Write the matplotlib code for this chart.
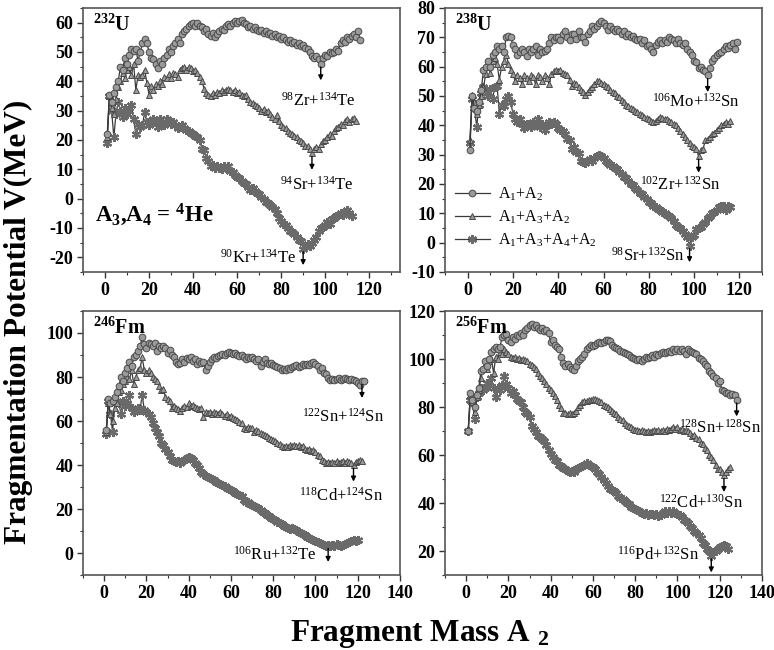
import numpy as np
import matplotlib
matplotlib.use("Agg")
import matplotlib.pyplot as plt
from matplotlib.ticker import MultipleLocator

plt.rcParams['font.family'] = ['Liberation Serif', 'DejaVu Serif']
plt.rcParams['font.weight'] = 'bold'
plt.rcParams['mathtext.fontset'] = 'custom'
plt.rcParams['mathtext.rm'] = 'Liberation Serif:weight=normal'
plt.rcParams['mathtext.bf'] = 'Liberation Serif:weight=bold'
plt.rcParams['mathtext.it'] = 'Liberation Serif:italic:weight=normal'
plt.rcParams['axes.unicode_minus'] = False

# ---------------- data: fragmentation potential vs A2 (A2 = 1..N) ----------------
u232_a12 = [22, 35.5, 33, 36, 38, 40, 45, 44, 48, 46,
            49, 51, 50.5, 51, 47, 50, 53, 54.5, 53, 50,
            48, 47.5, 46, 44.5, 47, 46, 48, 49, 51, 50,
            52, 53, 54.5, 53, 56, 57, 58, 59, 59.5, 60,
            59, 60, 59, 58.5, 57, 58, 56, 55.5, 56.5, 55,
            56, 57, 58, 57.5, 59, 59.5, 59, 60, 60.5, 60,
            60.5, 61, 60, 59.5, 58.5, 59, 58, 58.5, 57.5, 57,
            57.5, 56.5, 57, 56, 56.5, 55.5, 56, 55, 55.5, 54.5,
            55, 54, 53.5, 54, 53, 53.5, 52.5, 53, 52, 52.5,
            51.5, 51, 50, 48.5, 48, 48.5, 47.5, 46, 48, 49,
            48.5, 50, 49.5, 50, 51, 50.5, 53, 54, 53.5, 55,
            54.5, 55.5, 56, 55, 57, 54]
u232_a132 = [21, 35, 31, 29, 34, 38, 40, 43, 41, 44,
             45, 42, 46, 37, 42, 41.5, 42, 44, 39.5, 35.5,
             38.5, 37, 39, 38.5, 40, 39, 41.5, 41, 42.5, 41,
             43, 42.5, 41.5, 44, 44.5, 45, 44, 45, 44.5, 43.5,
             44, 43, 41.5, 40, 37.5, 36, 35.5, 35, 36, 35.5,
             36.5, 36, 37, 36.5, 37, 37.5, 37, 36.5, 37, 36,
             36.5, 35.5, 35, 35.5, 34, 33, 32.5, 32, 31.5, 31,
             30, 30.5, 29.5, 30, 29, 28, 27, 28.5, 26.5, 25,
             24.5, 24, 23, 22.5, 22, 21.5, 21, 20, 19.5, 19,
             18, 18, 17, 15.5, 17, 17.5, 17, 18.5, 19.5, 20,
             21, 22, 21.5, 23, 24, 24.5, 25.5, 25, 26.5, 27,
             26, 27, 27.5, 26.5]
u232_a1342 = [19, 35, 30, 21, 29, 33, 30, 28, 31, 29,
              30, 32, 27, 22, 25.5, 24.5, 25, 29.5, 26, 25,
              26.5, 27, 26, 24.5, 27, 26, 25, 27, 26.5, 25.5,
              26, 25, 24, 24.5, 25, 24, 23.5, 23, 22.5, 22,
              21.5, 21, 20, 17, 16.5, 14, 13, 11, 11.5, 10.5,
              11, 10.5, 10, 11, 10.5, 11, 9.5, 9, 8, 7.5,
              7, 6, 5.5, 5, 4, 3, 3.5, 2.5, 2, 1.5,
              0.5, 0, -1, -1.5, -2, -3, -3.5, -5, -6.5, -7.5,
              -8.5, -9, -10, -11, -11.5, -12, -13, -14, -14.5, -17,
              -16, -15.5, -16, -15, -14, -13, -11, -10, -9.5, -9,
              -8, -8.5, -7, -6.5, -6, -5.5, -5, -5.5, -4.5, -4,
              -5, -6]

u238_a12 = [31.5, 50, 46, 45, 48, 52, 59, 60, 62, 60,
            64, 65, 67, 66, 67, 65, 70, 70.5, 70, 67.5,
            66, 64, 65, 66, 65, 63.5, 66, 65, 66, 67,
            64, 66, 65, 65.5, 66, 68, 70, 69, 70, 70,
            69, 71, 72, 70, 69, 71, 71, 69.5, 72, 70,
            70, 68.5, 71, 72, 74, 73, 74, 75, 75.5, 75,
            74, 72.5, 74, 73, 72, 73, 72, 71, 72, 70.5,
            71, 70, 70.5, 69.5, 69, 69.5, 68, 69, 67, 67.5,
            66, 65, 67.5, 68.5, 69, 68, 69, 68.5, 70, 69.5,
            69, 68, 69.5, 68, 67.5, 68, 66, 65, 64, 62,
            61.5, 59.5, 60, 59, 58.5, 57, 59.5, 62, 63, 64,
            64.5, 65, 66, 67, 66.5, 67.5, 68, 66, 68.5]
u238_a132 = [35, 50.5, 48, 44, 47, 50, 53, 57.5, 60, 58,
             62, 63, 61, 55.5, 60, 62, 64, 61, 59, 57.5,
             55, 57, 56, 54, 57, 56, 55, 57, 56.5, 54,
             57, 56.5, 55, 57, 56, 54, 57.5, 58.5, 59, 58.5,
             59, 58, 57.5, 57, 55.5, 53.5, 54.5, 54, 53, 52,
             51.5, 50.5, 51.5, 52.5, 53, 54, 55, 55, 54.5, 54,
             53.5, 53, 52, 51.5, 51, 50, 49.5, 48.5, 48, 47,
             46.5, 46, 45.5, 45, 44.5, 44, 43.5, 43, 42.5, 42,
             41.5, 41, 41.5, 42, 43, 42.5, 42, 42, 41.5, 41,
             40.5, 40, 39, 38, 37, 36, 35, 34, 33, 32.5,
             32, 29.5, 31.5, 32, 35, 35.5, 36, 37, 37.5, 38.5,
             39, 40, 40.5, 41, 40.5, 41.5]
u238_a1342 = [34, 49, 46, 39.5, 47, 51, 53, 52, 50, 52.5,
              49, 53, 53.5, 44, 47, 46.5, 49, 50, 48, 44,
              42, 41, 42, 40.5, 39, 40.5, 40, 39.5, 41, 40,
              42, 39.5, 40.5, 38.5, 40, 41, 40.5, 41, 40.5, 39,
              38.5, 38, 37, 35.5, 35, 32, 32.5, 31, 30.5, 28,
              27.5, 27, 28, 28.5, 28, 29, 29.5, 30, 29.5, 29,
              28, 27, 26.5, 26, 25.5, 25, 24, 23.5, 22.5, 22,
              21, 20, 19.5, 18.5, 18, 17, 16.5, 15.5, 15, 14,
              13.5, 12.5, 12, 11.5, 11, 10.5, 10, 9.5, 9, 8.5,
              7.5, 6, 5.5, 5, 4, 3, 2, -1, 2, 2.5,
              4.5, 5, 5.5, 6.5, 7, 8.5, 9, 10, 10.5, 11,
              12, 12.5, 12.5, 11, 12.5, 12]

fm246_a12 = [56, 70, 68, 69, 71, 73, 76, 80, 78, 82,
             84, 87, 85, 89, 90, 92, 94, 98, 95, 93,
             95.5, 95, 94, 95.5, 92, 94, 93, 94, 93, 91,
             92.5, 90, 89, 87, 86, 86.5, 88, 87, 88.5, 88,
             89, 87.5, 88, 86, 87.5, 86.5, 87, 83, 85, 87,
             88, 89, 88.5, 89.5, 90, 90.5, 90, 91, 91.5, 91,
             90.5, 91, 90, 89.5, 90, 89, 88, 89, 88.5, 89,
             88, 87.5, 88, 85, 87, 88, 86.5, 86, 86.5, 85.5,
             85, 84.5, 84, 83, 83.5, 83, 84, 83.5, 84.5, 85,
             85.5, 84.5, 85, 86, 85.5, 86, 85.5, 86.5, 87, 86,
             85, 83, 84, 82, 81.5, 79.5, 78.5, 79, 78.5, 79,
             79.5, 78.5, 79, 79.5, 79, 78.5, 79, 78.5, 78, 77.5,
             76.5, 78, 78]
fm246_a132 = [55, 68, 63, 60, 66, 68, 73, 74, 77, 78,
              80, 79, 83, 77, 80, 83, 84, 89, 83, 82,
              83, 82, 80, 79, 78, 76, 74, 74.5, 71, 70,
              69, 66, 67, 66, 65.5, 64.5, 66, 67, 66.5, 68,
              67, 67.5, 66.5, 66, 65.5, 66, 62, 64, 63.5, 64,
              63, 64, 63.5, 63, 64, 63, 62.5, 63, 62, 62.5,
              61.5, 61, 60.5, 59.5, 59, 57, 56.5, 57.5, 57, 57,
              55, 56, 55.5, 54.5, 54, 53.5, 53, 52.5, 52, 51.5,
              51, 50, 49.5, 48.5, 48, 48.5, 48, 49, 48.5, 49,
              48.5, 49, 48, 48.5, 47.5, 47, 47.5, 46.5, 47, 46,
              44.5, 44, 42.5, 42, 41, 41.5, 41, 41.5, 41, 42,
              41, 41.5, 42, 41, 42, 41.5, 41, 40, 41.5, 42,
              42.5, 42]
fm246_a1342 = [54, 69, 63, 55, 68, 69, 68, 63, 69, 67,
               68, 72, 66, 64, 65, 66, 65, 72, 65, 64,
               63, 62, 59, 57, 55, 53, 50, 49, 47.5, 46,
               44, 42.5, 42, 41.5, 42, 41, 42, 42.5, 43, 43.5,
               43, 42.5, 41, 40, 38.5, 37, 36, 35, 34.5, 34,
               33.5, 33, 32.5, 32, 31.5, 31, 30.5, 29.5, 29, 28.5,
               28, 27.5, 27, 26.5, 26, 24, 23, 23, 22.5, 22,
               21.5, 21, 20.5, 19.5, 18.5, 18, 17.5, 17, 16, 15.5,
               15, 14, 13.5, 13, 12.5, 12, 11.5, 11, 11.5, 11,
               10.5, 9.5, 9, 8.5, 8, 7.5, 7, 6.5, 6, 5.5,
               5, 4.5, 4, 3.5, 3, 3.5, 3, 3.5, 3, 4,
               3.5, 3, 3.5, 4, 4.5, 5, 5.5, 6, 5.5, 6]

fm256_a12 = [70, 86, 83, 80, 85, 88, 95, 96, 99, 97,
             100, 103, 104, 105, 104, 105, 109, 110, 110.5, 108,
             107, 109, 108.5, 110, 109.5, 111, 110, 112, 113, 114,
             114.5, 113.5, 114, 113, 112, 113, 111.5, 112, 111, 107,
             108, 106, 105, 104, 101, 98.5, 97, 98, 96.5, 96,
             95.5, 97, 99, 100, 101, 102, 104, 105, 106, 105.5,
             106, 106.5, 107, 106.5, 107, 108, 108, 107.5, 106, 105,
             104.5, 104, 103.5, 103, 102.5, 102, 101.5, 101, 100.5, 100,
             99.5, 100, 99, 100, 101, 100.5, 101, 101.5, 101, 102,
             101.5, 102.5, 103, 102.5, 103, 103.5, 103, 104, 103.5, 104,
             103.5, 104, 103.5, 102, 104, 103.5, 103, 102.5, 102, 100.5,
             100, 99, 98, 97, 95, 94, 93, 92, 90, 91,
             87, 86.5, 86, 86, 85, 85.5, 85, 83]
fm256_a132 = [71, 85, 82, 78, 84, 87, 92, 96, 97, 96,
              99, 100, 94, 101, 100, 103, 102, 104, 103, 102,
              101, 100.5, 101, 100, 100.5, 99.5, 100, 99.5, 99, 98,
              97.5, 96.5, 96, 94, 93, 92, 91, 89.5, 88, 87,
              86, 84.5, 83, 81, 79.5, 77.5, 77.5, 77, 77.5, 77,
              77.5, 78.5, 80, 81, 82, 82.5, 82.5, 83, 83, 83.5,
              83.5, 83, 82.5, 82, 81, 80.5, 80, 79, 78.5, 77.5,
              77, 76, 75, 74.5, 73.5, 72.5, 72, 71.5, 71, 70.5,
              70.5, 70, 70.5, 70, 69.5, 70, 69.5, 70, 70.5, 70,
              70.5, 70, 70.5, 70, 71, 70.5, 71, 71.5, 71, 71.5,
              70.5, 71, 70, 70.5, 70, 69, 68, 68.5, 67, 66.5,
              65, 64.5, 63, 62, 60, 59, 58, 56, 54, 54,
              53, 51.5, 53, 54, 55]
fm256_a1342 = [70, 83, 82, 75, 84, 86, 88, 87, 88, 90,
               89, 92, 88, 84, 88, 87, 89, 93, 89.5, 88,
               86, 86.5, 85, 83.5, 82.5, 82, 80, 78, 77, 76,
               72, 71, 69.5, 68, 67.5, 66.5, 66, 64, 62, 60.5,
               59, 58, 57.5, 56, 55.5, 54.5, 54, 53.5, 53, 53.5,
               53, 54, 54.5, 55, 55.5, 56, 56.5, 56, 55.5, 55,
               54, 53, 52, 51, 49.5, 48.5, 47, 46, 45.5, 45,
               44, 43, 42, 41.5, 41, 40, 39.5, 38.5, 38, 37.5,
               37, 36.5, 36, 35.5, 36, 35, 35.5, 35.5, 35, 35.5,
               34.5, 35, 36, 36.5, 36, 36.5, 36, 36.5, 36, 35.5,
               35, 34, 33, 32.5, 31.5, 30.5, 29.5, 28.5, 27.5, 26.5,
               25.5, 23.5, 22.5, 21, 20, 18, 19.5, 20, 21, 21.5,
               22, 22.5, 22, 21]

series_labels = [r"A$_1$+A$_2$", r"A$_1$+A$_3$+A$_2$", r"A$_1$+A$_3$+A$_4$+A$_2$"]

panels = [
    dict(name=r"$^{\mathbf{232}}$U", series=[u232_a12, u232_a132, u232_a1342],
         xlim=(-10, 134), ylim=(-25, 65), ymaj=10,
         marks=[(98, 0, r"$^{98}$Zr+$^{134}$Te", 97, 33.5),
                (94, 1, r"$^{94}$Sr+$^{134}$Te", 96, 4.8),
                (90, 2, r"$^{90}$Kr+$^{134}$Te", 69.5, -20.2)]),
    dict(name=r"$^{\mathbf{238}}$U", series=[u238_a12, u238_a132, u238_a1342],
         xlim=(-10, 130), ylim=(-10, 80), ymaj=10,
         marks=[(106, 0, r"$^{106}$Mo+$^{132}$Sn", 101, 48.0),
                (102, 1, r"$^{102}$Zr+$^{132}$Sn", 94, 19.9),
                (98, 2, r"$^{98}$Sr+$^{132}$Sn", 79.7, -4.6)]),
    dict(name=r"$^{\mathbf{246}}$Fm", series=[fm246_a12, fm246_a132, fm246_a1342],
         xlim=(-10, 140), ylim=(-10, 110), ymaj=20,
         marks=[(122, 0, r"$^{122}$Sn+$^{124}$Sn", 113, 62),
                (118, 1, r"$^{118}$Cd+$^{124}$Sn", 112, 26),
                (106, 2, r"$^{106}$Ru+$^{132}$Te", 81, -1)]),
    dict(name=r"$^{\mathbf{256}}$Fm", series=[fm256_a12, fm256_a132, fm256_a1342],
         xlim=(-10, 140), ylim=(10, 120), ymaj=20,
         marks=[(128, 0, r"$^{128}$Sn+$^{128}$Sn", 120, 71.5),
                (122, 1, r"$^{122}$Cd+$^{130}$Sn", 111, 40),
                (116, 2, r"$^{116}$Pd+$^{132}$Sn", 91, 18.3)]),
]

W, H = 774, 650
fig = plt.figure(figsize=(W / 100, H / 100), dpi=100)
rects = [(83, 8, 317, 264), (445, 8, 317, 264), (83, 311, 317, 264), (445, 311, 317, 264)]

markers = ['o', '^', (6, 2, 0)]
face = '#9a9a9a'
edge = '#4a4a4a'
linec = '#3a3a3a'

for p, (lx, ty, w, h) in zip(panels, rects):
    ax = fig.add_axes([lx / W, 1 - (ty + h) / H, w / W, h / H])
    for k, ys in enumerate(p['series']):
        xs = np.arange(1, len(ys) + 1)
        if k < 2:
            ax.plot(xs, ys, color=linec, lw=0.9, marker=markers[k], ms=4.8,
                    mfc=face, mec=edge, mew=0.7, label=series_labels[k], zorder=3 - k)
        else:
            ax.plot(xs, ys, color=linec, lw=0.9, marker=markers[k], ms=6.5,
                    mec='#6a6a6a', mew=1.6, label=series_labels[k], zorder=1)
    ax.set_xlim(*p['xlim'])
    ax.set_ylim(*p['ylim'])
    ax.xaxis.set_major_locator(MultipleLocator(20))
    ax.xaxis.set_minor_locator(MultipleLocator(10))
    ax.yaxis.set_major_locator(MultipleLocator(p['ymaj']))
    ax.yaxis.set_minor_locator(MultipleLocator(p['ymaj'] / 2))
    ax.tick_params(which='both', direction='out', top=False, right=False,
                   labelsize=13, color='#333333', pad=3)
    ax.tick_params(which='major', length=4, width=1)
    ax.tick_params(which='minor', length=2.5, width=0.8)
    for s in ax.spines.values():
        s.set_color('#555555')
        s.set_linewidth(1.2)
    ax.text(0.03, 0.975, p['name'], transform=ax.transAxes, ha='left', va='top',
            fontsize=14.5, fontweight='bold')
    yr = p['ylim'][1] - p['ylim'][0]
    for a2, k, lbl, tx, ty_ in p['marks']:
        ys = p['series'][k]
        yv = ys[a2 - 1]
        ax.annotate('', xy=(a2, yv - 0.063 * yr), xytext=(a2, yv - 0.012 * yr),
                    arrowprops=dict(arrowstyle='-|>', color='black', lw=1.0,
                                    mutation_scale=7, shrinkA=0, shrinkB=0))
        ax.text(tx, ty_, lbl, ha='center', va='center', fontsize=12,
                fontweight='normal')
    if p is panels[0]:
        ax.text(-4.5, -5.5, r"A$_\mathbf{3}$,A$_\mathbf{4}$ = $^\mathbf{4}$He",
                ha='left', va='center', fontsize=16.5, fontweight='bold')
    if p is panels[1]:
        ax.legend(loc='lower left', bbox_to_anchor=(0.0, 0.05), frameon=False,
                  prop={'weight': 'normal', 'size': 11.5}, handlelength=2.2,
                  handletextpad=0.5, labelspacing=0.35, borderaxespad=0.2)

fig.text(0.024, 0.505, "Fragmentation Potential V(MeV)", rotation=90,
         ha='center', va='center', fontsize=22.5, fontweight='bold')
fig.text(0.543, 0.025, r"Fragment Mass A $_\mathbf{2}$", ha='center', va='center',
         fontsize=22.5, fontweight='bold')

fig.savefig("out.png", dpi=100)
